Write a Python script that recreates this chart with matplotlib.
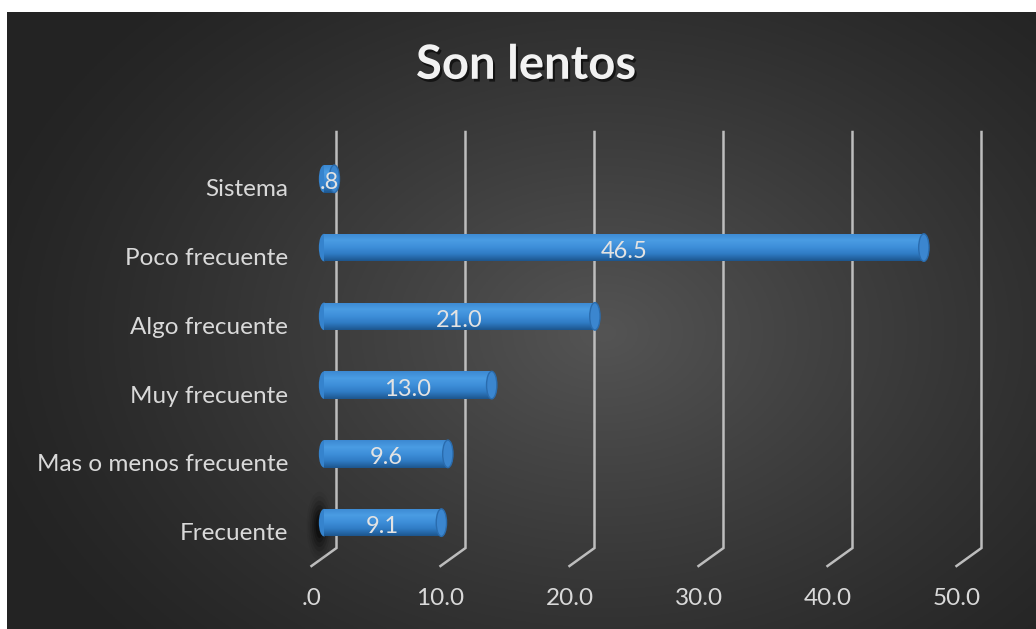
import numpy as np
import matplotlib
matplotlib.use("Agg")
import matplotlib.pyplot as plt
from matplotlib.patches import Ellipse
from matplotlib.transforms import ScaledTranslation
import matplotlib.patheffects as pe

# data
categories = ["Frecuente", "Mas o menos frecuente", "Muy frecuente",
              "Algo frecuente", "Poco frecuente", "Sistema"]
values = [9.1, 9.6, 13.0, 21.0, 46.5, 0.8]
value_labels = ["9.1", "9.6", "13.0", "21.0", "46.5", ".8"]
xticks = [0, 10, 20, 30, 40, 50]
xtick_labels = [".0", "10.0", "20.0", "30.0", "40.0", "50.0"]
title = "Son lentos"

W, H = 1036, 629
FONT = "Lato"
TEXT = "#d9d9d9"
GRID = "#bdbdbd"

fig = plt.figure(figsize=(W / 100, H / 100), dpi=100)
fig.patch.set_facecolor("white")

# dark panel with a soft radial glow
bg = fig.add_axes([7 / W, 0, 1 - 7 / W, 1 - 12 / H])
bg.set_axis_off()
gx, gy = np.meshgrid(np.linspace(0, 1, 400), np.linspace(0, 1, 300))
r = np.sqrt(((gx - 0.58) / 0.62) ** 2 + ((gy - 0.48) / 0.75) ** 2)
shade = 0.14 + 0.19 * np.clip(1 - r, 0, 1) ** 1.2
bg.imshow(np.dstack([shade] * 3), extent=(0, 1, 0, 1), aspect="auto", origin="lower")
bg.set_xlim(0, 1)
bg.set_ylim(0, 1)

# plot area (middle depth plane of the 3D box)
left, right, top, bottom = 324, 969, 141, 557
ax = fig.add_axes([left / W, (H - bottom) / H, (right - left) / W, (bottom - top) / H])
ax.set_facecolor("none")
xlo, xhi = 0, 50
ylo, yhi = -0.5, 5.55
for s in ax.spines.values():
    s.set_visible(False)

px_x = (right - left) / (xhi - xlo)
px_y = (bottom - top) / (yhi - ylo)
dx = 12.5 / px_x   # half depth in data units
dy = 9.0 / px_y

# gridlines: back wall verticals bending down to the front floor
for t in xticks:
    ax.plot([t + dx, t + dx, t - dx], [yhi + dy, ylo + dy, ylo - dy],
            color=GRID, lw=1.8, clip_on=False, zorder=1, solid_joinstyle="miter")

# smudge at the foot of the first bar
for k, a in enumerate([0.05, 0.08, 0.12, 0.16, 0.22, 0.3]):
    ax.add_patch(Ellipse((-0.35, -0.05), 2.0 - k * 0.28, 1.0 - k * 0.13,
                         color="black", alpha=a, lw=0, zorder=2, clip_on=False))

# cylinder bars
y = np.arange(len(categories))
bh = 0.40
bars = ax.barh(y, values, height=bh, color="#3b8ad5", lw=0, zorder=3)
grad = np.linspace(0, 1, 64)[:, None]
cyl = matplotlib.colors.LinearSegmentedColormap.from_list(
    "cyl", ["#1d568e", "#2f7bc4", "#3e8fd9", "#4a9ce3", "#3c89d2"])
cap_w = 0.8
for b, v, yy in zip(bars, values, y):
    im = ax.imshow(grad, cmap=cyl, extent=(0, v, yy - bh / 2, yy + bh / 2),
                   aspect="auto", origin="lower", zorder=3, interpolation="bilinear")
    im.set_clip_path(b)
    # rounded left end
    ax.add_patch(Ellipse((0, yy), cap_w, bh, color="#3583cd", lw=0, zorder=2.9,
                         clip_on=False))
    # visible end cap
    ax.add_patch(Ellipse((v, yy), cap_w, bh, facecolor="#3b86cf",
                         edgecolor="#2a6cae", lw=1.0, zorder=4))

# value labels
for v, yy, lab in zip(values, y, value_labels):
    ax.text(v / 2, yy - 0.06, lab, ha="center", va="center", color="#e3e3e3",
            fontsize=17, family=FONT, zorder=5)

# axis labels sit on the front plane
ax.set_yticks(y - dy)
ax.set_yticklabels(categories, family=FONT, fontsize=17.5, color=TEXT)
ax.set_xticks(xticks)
ax.set_xticklabels(xtick_labels, family=FONT, fontsize=17.5, color=TEXT)
ax.tick_params(axis="y", length=0, pad=26)
ax.tick_params(axis="x", length=0, pad=22)
shift = ScaledTranslation(-12.5 / 100, 0, fig.dpi_scale_trans)
for lab in ax.get_xticklabels():
    lab.set_transform(lab.get_transform() + shift)
ax.set_xlim(xlo, xhi)
ax.set_ylim(ylo, yhi)

fig.text(0.508, 0.897, title, ha="center", va="center", color="#f2f2f2",
         fontsize=34, fontweight="bold", family=FONT,
         path_effects=[pe.withSimplePatchShadow(offset=(1.5, -2), shadow_rgbFace="black", alpha=0.6)])

fig.savefig("out.png", dpi=100, facecolor=fig.get_facecolor())
